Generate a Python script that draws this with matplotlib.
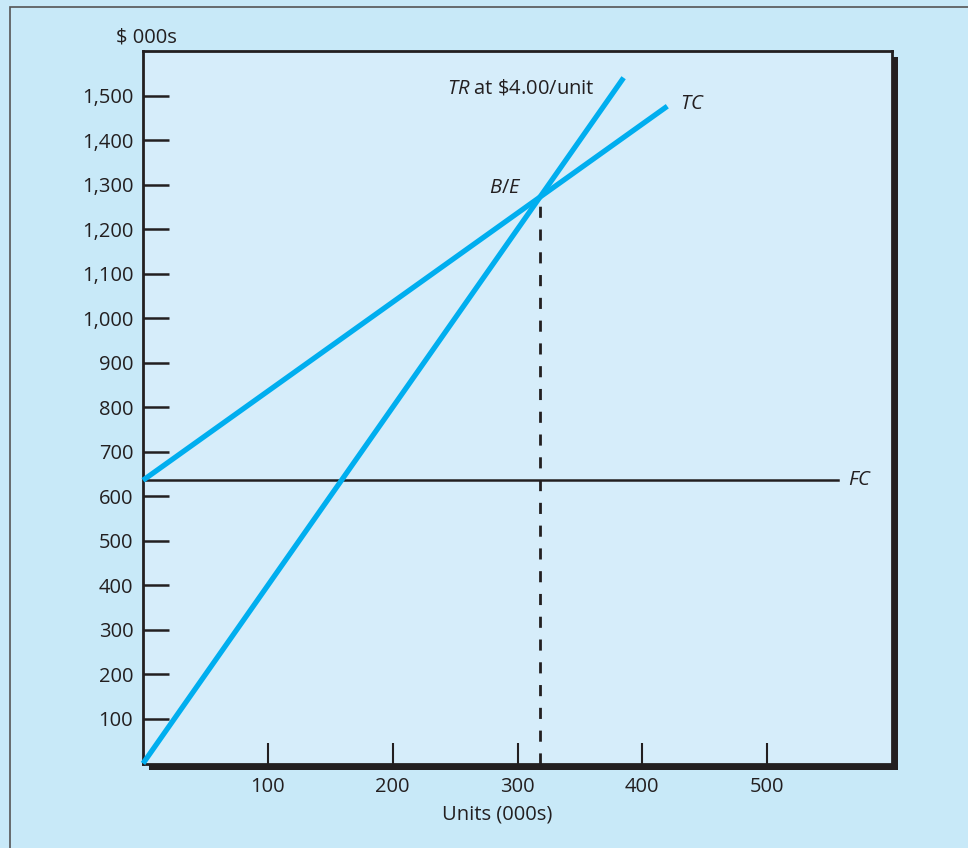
import matplotlib
matplotlib.use("Agg")
import matplotlib.pyplot as plt
from matplotlib.patches import Rectangle
import numpy as np

# ---- data ----
fixed_cost = 636          # $000s
price = 4.00              # $/unit
variable_cost = 2.00      # $/unit
tr_units = [0, 385]       # 000s units
tc_units = [0, 420]
fc_units = [0, 557]
x_ticks = [100, 200, 300, 400, 500]
y_ticks = [100, 200, 300, 400, 500, 600, 700, 800, 900, 1000,
           1100, 1200, 1300, 1400, 1500]
y_tick_labels = ["100", "200", "300", "400", "500", "600", "700", "800", "900",
                 "1,000", "1,100", "1,200", "1,300", "1,400", "1,500"]

be_units = fixed_cost / (price - variable_cost)
be_value = price * be_units

FONT = "Open Sans"
plt.rcParams["font.family"] = [FONT, "DejaVu Sans"]
plt.rcParams["mathtext.fontset"] = "custom"
plt.rcParams["mathtext.it"] = FONT + ":italic"
plt.rcParams["mathtext.rm"] = FONT

TXT = "#231f20"
OUTER = "#c8e9f8"
INNER = "#d6edfa"
CYAN = "#00aeef"
FS = 14.5

W, H = 968, 848
fig = plt.figure(figsize=(W / 100, H / 100), dpi=100, facecolor=OUTER)

# outer frame border
fig.patches.append(Rectangle((10 / W, -0.1), 1.2, 1 - 7 / H + 0.1,
                             transform=fig.transFigure, fill=False,
                             edgecolor="#555555", linewidth=1.2, zorder=0))

left, right, top, bottom = 143, 892, 51, 763.5
ax = fig.add_axes([left / W, 1 - bottom / H, (right - left) / W, (bottom - top) / H])
ax.set_facecolor(INNER)
ax.set_xlim(0, 600)
ax.set_ylim(0, 1600)

# shadow behind axes (offset down-right)
sh = 6
fig.patches.append(Rectangle(((left + sh) / W, 1 - (bottom + sh) / H),
                             (right - left) / W, (bottom - top) / H,
                             transform=fig.transFigure, facecolor=TXT,
                             edgecolor="none", zorder=0.5))
ax.set_zorder(1)

for s in ax.spines.values():
    s.set_color(TXT)
    s.set_linewidth(2.0)

# lines
tr_x = np.array(tr_units, dtype=float)
tc_x = np.array(tc_units, dtype=float)
ax.plot(tr_x, price * tr_x, color=CYAN, lw=3.8, solid_capstyle="butt", zorder=3, clip_on=False)
ax.plot(tc_x, fixed_cost + variable_cost * tc_x, color=CYAN, lw=3.8,
        solid_capstyle="butt", zorder=3, clip_on=False)
ax.plot(fc_units, [fixed_cost, fixed_cost], color=TXT, lw=1.8, zorder=2)
ax.plot([be_units, be_units], [0, be_value], color=TXT, lw=2.0,
        linestyle=(0, (4.0, 4.2)), zorder=2)

# ticks
ax.set_xticks(x_ticks)
ax.set_xticklabels([str(v) for v in x_ticks])
ax.set_yticks(y_ticks)
ax.set_yticklabels(y_tick_labels)
ax.tick_params(axis="y", direction="in", length=19, width=1.8, color=TXT,
               labelsize=FS, labelcolor=TXT, pad=7)
ax.tick_params(axis="x", direction="in", length=15, width=1.5, color=TXT,
               labelsize=FS, labelcolor=TXT, pad=10)

# annotations
ax.text(0.005, 1.0 + 9 / 712.5, "$ 000s", transform=ax.transAxes, ha="center",
        va="baseline", fontsize=FS, color=TXT)
ax.text(284, -0.058, "Units (000s)", transform=ax.get_xaxis_transform(),
        ha="center", va="top", fontsize=FS, color=TXT)
ax.text(tr_units[1] - 23, price * tr_units[1] - 25, r"$TR$ at \$4.00/unit",
        ha="right", va="center", fontsize=FS, color=TXT)
ax.text(tc_units[1] + 10, fixed_cost + variable_cost * tc_units[1] + 5, r"$TC$",
        ha="left", va="center", fontsize=FS, color=TXT)
ax.text(be_units - 15, be_value + 20, r"$B/E$", ha="right", va="center",
        fontsize=FS, color=TXT)
ax.text(fc_units[1] + 8, fixed_cost, r"$FC$", ha="left", va="center",
        fontsize=FS, color=TXT)

fig.savefig("out.png", dpi=100, facecolor=OUTER)
